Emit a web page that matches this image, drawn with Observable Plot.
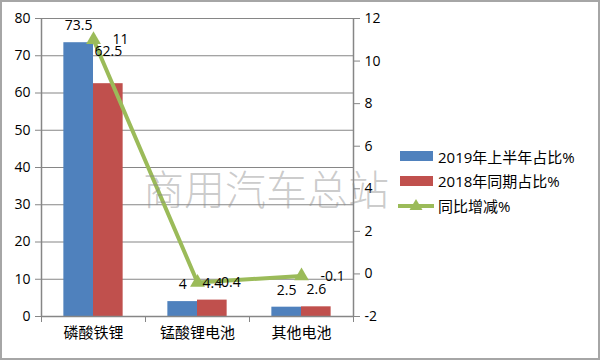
<!DOCTYPE html>
<html>
<head>
<meta charset="utf-8">
<script src="https://cdn.jsdelivr.net/npm/d3@7"></script>
<script src="https://cdn.jsdelivr.net/npm/@observablehq/plot@0.6"></script>
<style>
  html, body { margin: 0; padding: 0; background: #fff; }
  #wrap { position: relative; width: 600px; height: 360px; overflow: hidden; font-family: "Open Sans", "Noto Sans CJK SC", sans-serif; }
  #wrap svg.plot { position: absolute; left: 0; top: 0; }
  #border { position: absolute; left: 0; top: 0; width: 596px; height: 356px; border: 2px solid #a6a6a6; pointer-events: none; }
  #legend { position: absolute; left: 398px; top: 144px; font-size: 15px; color: #000; }
  .row { display: flex; align-items: center; height: 24.5px; }
  .sw { width: 33px; height: 10px; margin-left: 2px; margin-right: 5px; }
  #wm { position: absolute; left: 143px; top: 157px; font-family: "Noto Sans CJK SC", sans-serif; font-weight: 300; font-size: 41px; color: rgba(140,140,140,0.45); letter-spacing: 0px; white-space: nowrap; pointer-events: none; }
</style>
</head>
<body>
<div id="wrap"></div>
<script>
const categories = ["磷酸铁锂", "锰酸锂电池", "其他电池"];
const share2019 = [73.5, 4, 2.5];
const share2018 = [62.5, 4.4, 2.6];
const yoyChange = [11, -0.4, -0.1];
const leftTicks = [0, 10, 20, 30, 40, 50, 60, 70, 80];
const rightTicks = [-2, 0, 2, 4, 6, 8, 10, 12];
const seriesNames = ["2019年上半年占比%", "2018年同期占比%", "同比增减%"];
const colors = ["#4F81BD", "#C0504D", "#9BBB59"];

const rightMin = -2, rightMax = 12, leftMax = 80;
const toLeft = r => (r - rightMin) / (rightMax - rightMin) * leftMax;
const fromLeft = v => Math.round(v / leftMax * (rightMax - rightMin) + rightMin);

const barW = 0.285;
const bars19 = categories.map((c, i) => ({i, v: share2019[i]}));
const bars18 = categories.map((c, i) => ({i, v: share2018[i]}));
const lineData = categories.map((c, i) => ({i, v: yoyChange[i], y: toLeft(yoyChange[i])}));
const gray = "#868686";

const chart = Plot.plot({
  width: 600, height: 360,
  marginLeft: 41, marginRight: 247, marginTop: 18, marginBottom: 44,
  x: {domain: [-0.5, 2.5], axis: null},
  y: {domain: [0, leftMax], axis: null},
  style: {fontFamily: "'Open Sans', 'Noto Sans CJK SC', sans-serif", fontSize: "14px", color: "#000", background: "transparent"},
  marks: [
    Plot.ruleY(leftTicks.filter(d => d > 0), {stroke: gray, strokeWidth: 1.2}),
    Plot.rectY(bars19, {x1: d => d.i - barW, x2: d => d.i, y: "v", fill: colors[0]}),
    Plot.rectY(bars18, {x1: d => d.i, x2: d => d.i + barW, y: "v", fill: colors[1]}),
    Plot.ruleX([-0.5, 2.5], {stroke: gray, strokeWidth: 1.5}),
    Plot.ruleY([0], {stroke: gray, strokeWidth: 1.5}),
    Plot.axisY({anchor: "left", ticks: leftTicks, tickSize: 6, tickPadding: 5, stroke: gray, label: null, fontSize: 14}),
    Plot.axisY({anchor: "right", ticks: rightTicks.map(toLeft), tickFormat: fromLeft, tickSize: 6, tickPadding: 5, stroke: gray, label: null, fontSize: 14}),
    Plot.axisX({anchor: "bottom", ticks: [-0.5, 0.5, 1.5, 2.5], tickFormat: () => "", tickSize: 6, stroke: gray, label: null}),
    Plot.axisX({anchor: "bottom", ticks: [0, 1, 2], tickFormat: i => categories[i], tickSize: 0, tickPadding: 11, label: null, fontSize: 15}),
    Plot.line(lineData, {x: "i", y: "y", stroke: colors[2], strokeWidth: 4}),
    Plot.dot(lineData, {x: "i", y: "y", symbol: "triangle", r: 5.5, fill: colors[2], stroke: "none"}),
    Plot.text(bars19, {x: d => d.i - barW / 2, y: "v", text: d => String(d.v), dy: -17, fill: "#000", fontSize: 14}),
    Plot.text(bars18.filter(d => d.i === 0), {x: d => d.i + barW / 2, y: "v", text: d => String(d.v), dy: -32, fill: "#000", fontSize: 14}),
    Plot.text(bars18.filter(d => d.i !== 0), {x: d => d.i + barW / 2, y: "v", text: d => String(d.v), dy: -17, fill: "#000", fontSize: 14}),
    Plot.text(lineData, {x: "i", y: "y", text: d => String(d.v), dx: 19, textAnchor: "start", fill: "#000", fontSize: 14})
  ]
});

const wrap = document.getElementById("wrap");
wrap.appendChild(chart);

const wm = document.createElement("div");
wm.id = "wm";
wm.textContent = "商用汽车总站";
wrap.appendChild(wm);

const legend = document.createElement("div");
legend.id = "legend";
seriesNames.forEach((name, k) => {
  const row = document.createElement("div");
  row.className = "row";
  if (k < 2) {
    const sw = document.createElement("div");
    sw.className = "sw";
    sw.style.background = colors[k];
    row.appendChild(sw);
  } else {
    const ns = "http://www.w3.org/2000/svg";
    const s = document.createElementNS(ns, "svg");
    s.setAttribute("width", 40); s.setAttribute("height", 14);
    s.style.marginRight = "0px";
    const l = document.createElementNS(ns, "line");
    l.setAttribute("x1", 0); l.setAttribute("x2", 36); l.setAttribute("y1", 8); l.setAttribute("y2", 8);
    l.setAttribute("stroke", colors[2]); l.setAttribute("stroke-width", 4);
    s.appendChild(l);
    const t = document.createElementNS(ns, "path");
    t.setAttribute("d", "M18,1 L24.5,12 L11.5,12 Z");
    t.setAttribute("fill", colors[2]);
    s.appendChild(t);
    row.appendChild(s);
  }
  const tx = document.createElement("span");
  tx.textContent = name;
  row.appendChild(tx);
  legend.appendChild(row);
});
wrap.appendChild(legend);

const border = document.createElement("div");
border.id = "border";
wrap.appendChild(border);
</script>
</body>
</html>
